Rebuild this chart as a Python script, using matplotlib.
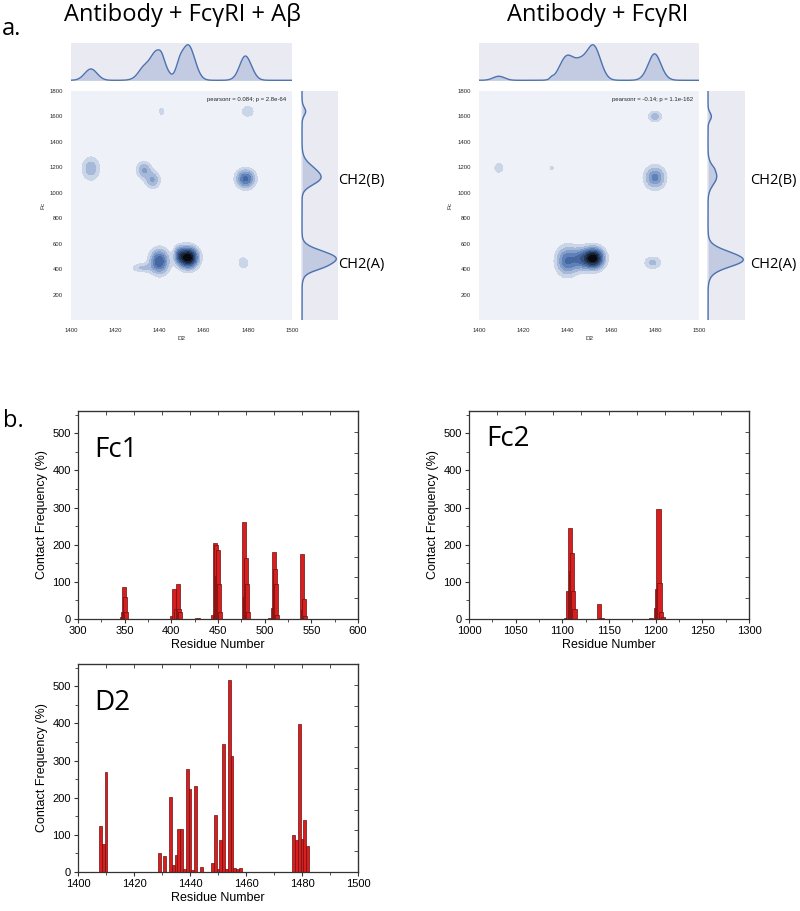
import numpy as np
import matplotlib
matplotlib.use("Agg")
import matplotlib.pyplot as plt
from matplotlib.colors import LinearSegmentedColormap, to_rgb
import colorsys

# ---------------- data: panel a (density clusters of contacts) ----------------
# D2 residue centre, Fc residue centre, spread in D2, spread in Fc, weight
left_cx = [1409, 1433, 1437, 1441, 1480, 1479, 1440, 1432, 1453, 1449, 1478]
left_cy = [1190, 1180, 1100, 1640, 1640, 1110, 460, 410, 490, 515, 450]
left_sx = [2.8, 2.3, 2.3, 1.0, 2.2, 2.9, 2.9, 3.2, 3.0, 1.5, 1.8]
left_sy = [65, 45, 45, 25, 35, 50, 65, 25, 55, 45, 35]
left_w = [0.30, 0.19, 0.19, 0.023, 0.084, 0.47, 0.68, 0.10, 1.0, 0.12, 0.069]
left_stat = "pearsonr = 0.084; p = 2.8e-64"

right_cx = [1409, 1433, 1480, 1480, 1440, 1446, 1452, 1479]
right_cy = [1195, 1195, 1600, 1120, 465, 480, 485, 450]
right_sx = [2.6, 0.8, 2.2, 3.2, 3.3, 2.6, 3.2, 2.8]
right_sy = [50, 18, 30, 60, 75, 60, 55, 35]
right_w = [0.095, 0.012, 0.10, 0.48, 0.72, 0.30, 1.0, 0.13]
right_stat = "pearsonr = -0.14; p = 1.1e-162"

# ---------------- data: panel b (contact frequency per residue) ----------------
fc1_res = [347, 348, 349, 350, 351, 401, 403, 405, 407, 408, 409, 428,
           445, 447, 448, 449, 450, 451, 452, 478, 479, 480, 481, 482,
           506, 509, 510, 511, 512, 513, 540, 541, 542, 543]
fc1_val = [5, 20, 86, 60, 20, 8, 82, 28, 95, 28, 20, 2,
           10, 205, 200, 115, 185, 95, 20, 260, 60, 165, 95, 20,
           3, 30, 180, 135, 95, 10, 175, 25, 55, 8]

fc2_res = [1104, 1106, 1108, 1109, 1110, 1111, 1113, 1139, 1142, 1195,
           1200, 1201, 1203, 1204, 1206, 1208]
fc2_val = [3, 75, 246, 128, 178, 75, 28, 41, 3, 2,
           30, 80, 295, 97, 20, 5]

d2_res = [1408, 1409, 1410, 1429, 1431, 1433, 1434, 1435, 1436, 1437, 1438,
          1439, 1440, 1441, 1442, 1444, 1448, 1449, 1450, 1451, 1452, 1453,
          1454, 1455, 1456, 1457, 1458, 1477, 1478, 1479, 1480, 1481, 1482]
d2_val = [123, 75, 270, 51, 43, 203, 18, 47, 116, 115, 8,
          278, 224, 5, 231, 13, 25, 153, 8, 87, 345, 8,
          518, 311, 10, 8, 10, 100, 87, 398, 88, 140, 70]

# ---------------- figure ----------------
W, H = 800, 911
fig = plt.figure(figsize=(W / 100, H / 100), dpi=100)
TFONT = ["Open Sans", "DejaVu Sans"]
AFONT = ["Liberation Sans", "DejaVu Sans"]


def add_ax(x0, y0, x1, y1):
    return fig.add_axes([x0 / W, 1 - y1 / H, (x1 - x0) / W, (y1 - y0) / H])


def ftext(px, py, s, **kw):
    fig.text(px / W, 1 - py / H, s, **kw)


base = "#4C72B0"
h, l, s = colorsys.rgb_to_hls(*to_rgb(base))
cols = [colorsys.hls_to_rgb(h, li, s) for li in np.linspace(1, 0, 12)]
cmap = LinearSegmentedColormap.from_list("blend", cols)


def joint(main_box, top_box, right_box, cx, cy, sx, sy, w, stat):
    gx = np.linspace(1395, 1505, 441)
    gy = np.linspace(-150, 1950, 421)
    X, Y = np.meshgrid(gx, gy)
    Z = np.zeros_like(X)
    for a, b, sa, sb, k in zip(cx, cy, sx, sy, w):
        Z += k / (2 * np.pi * sa * sb) * np.exp(-0.5 * (((X - a) / sa) ** 2 + ((Y - b) / sb) ** 2))
    ax = add_ax(*main_box)
    ax.contourf(X, Y, Z, levels=np.linspace(0, Z.max(), 11), cmap=cmap)
    ax.set_xlim(1400, 1500)
    ax.set_ylim(0, 1800)
    ax.set_xticks(range(1400, 1501, 20))
    ax.set_yticks(range(200, 1801, 200))
    ax.tick_params(length=0, labelsize=4.3, labelcolor=".15", pad=6)
    for sp in ax.spines.values():
        sp.set_visible(False)
    ax.set_xlabel("D2", fontsize=4.6, color=".15", labelpad=2, family=AFONT)
    ax.set_ylabel("Fc", fontsize=4.6, color=".15", labelpad=3, family=AFONT)
    for lab in ax.get_xticklabels() + ax.get_yticklabels():
        lab.set_family(AFONT)
    ax.text(0.975, 0.975, stat, transform=ax.transAxes, ha="right", va="top",
            fontsize=4.3, color=".15", family=AFONT)

    mx = Z.sum(axis=0)
    my = Z.sum(axis=1)
    axt = add_ax(*top_box)
    axt.set_facecolor("#EAEAF2")
    axt.plot(gx, mx, color=base, lw=1.0)
    axt.fill_between(gx, 0, mx, color=base, alpha=0.25, lw=0)
    axt.set_xlim(1400, 1500)
    axt.set_ylim(-0.02 * mx.max(), 1.05 * mx.max())
    axt.set_xticks([]); axt.set_yticks([])
    for sp in axt.spines.values():
        sp.set_visible(False)

    axr = add_ax(*right_box)
    axr.set_facecolor("#EAEAF2")
    axr.plot(my, gy, color=base, lw=1.0)
    axr.fill_betweenx(gy, 0, my, color=base, alpha=0.25, lw=0)
    axr.set_ylim(0, 1800)
    axr.set_xlim(-0.03 * my.max(), 1.05 * my.max())
    axr.set_xticks([]); axr.set_yticks([])
    for sp in axr.spines.values():
        sp.set_visible(False)


joint((71, 91, 292, 320), (71, 43, 292, 81), (301, 91, 338, 320),
      left_cx, left_cy, left_sx, left_sy, left_w, left_stat)
joint((479, 91, 699, 320), (479, 43, 699, 81), (707, 91, 745, 320),
      right_cx, right_cy, right_sx, right_sy, right_w, right_stat)

ftext(182, 21, "Antibody + FcγRI + Aβ", fontsize=17, ha="center", va="baseline", family=TFONT)
ftext(598, 21, "Antibody + FcγRI", fontsize=17, ha="center", va="baseline", family=TFONT)
ftext(2, 35, "a.", fontsize=17, ha="left", va="baseline", family=TFONT)
ftext(3, 427, "b.", fontsize=17, ha="left", va="baseline", family=TFONT)
for xx in (338, 750):
    ftext(xx, 184, "CH2(B)", fontsize=10.5, ha="left", va="baseline", family=TFONT)
    ftext(xx, 268, "CH2(A)", fontsize=10.5, ha="left", va="baseline", family=TFONT)


def bars(box, res, val, width, xlim, xmajor, name, name_xy):
    ax = add_ax(*box)
    ax.bar(res, val, width=width, color="#d81e1e", edgecolor="#6e0f0f", linewidth=0.5)
    ax.set_xlim(*xlim)
    ax.set_ylim(0, 560)
    ax.set_xticks(np.arange(xlim[0], xlim[1] + 1, xmajor))
    ax.set_xticks(np.arange(xlim[0], xlim[1] + 1, xmajor / 2), minor=True)
    ax.set_yticks(range(0, 501, 100))
    ax.set_yticks(range(0, 551, 50), minor=True)
    ax.tick_params(which="major", direction="out", length=3, labelsize=8, width=0.8,
                   color="#333333", pad=2)
    ax.tick_params(which="minor", direction="out", length=2, width=0.6, color="#333333")
    for lab in ax.get_xticklabels() + ax.get_yticklabels():
        lab.set_family(AFONT)
    for sp in ax.spines.values():
        sp.set_color("#333333")
        sp.set_linewidth(0.9)
    sx = ax.secondary_xaxis("top")
    sx.set_xticks(np.linspace(xlim[0], xlim[1], 11))
    sx.tick_params(direction="in", length=3, width=0.6, labeltop=False, color="#333333")
    sy = ax.secondary_yaxis("right")
    sy.set_yticks(np.linspace(0, 560, 11))
    sy.tick_params(direction="in", length=3, width=0.6, labelright=False, color="#333333")
    ax.set_xlabel("Residue Number", fontsize=9, family=AFONT, labelpad=2)
    ax.set_ylabel("Contact Frequency (%)", fontsize=9, family=AFONT, labelpad=3)
    ax.text(name_xy[0], name_xy[1], name, transform=ax.transAxes, fontsize=20,
            family=TFONT, ha="left", va="baseline")


bars((78, 411, 358, 619), fc1_res, fc1_val, 4.5, (300, 600), 50, "Fc1", (0.057, 0.78))
bars((469, 411, 749, 619), fc2_res, fc2_val, 4.5, (1000, 1300), 50, "Fc2", (0.06, 0.83))
bars((78, 664, 358, 872), d2_res, d2_val, 1, (1400, 1500), 20, "D2", (0.057, 0.78))

fig.savefig("out.png", dpi=100)
